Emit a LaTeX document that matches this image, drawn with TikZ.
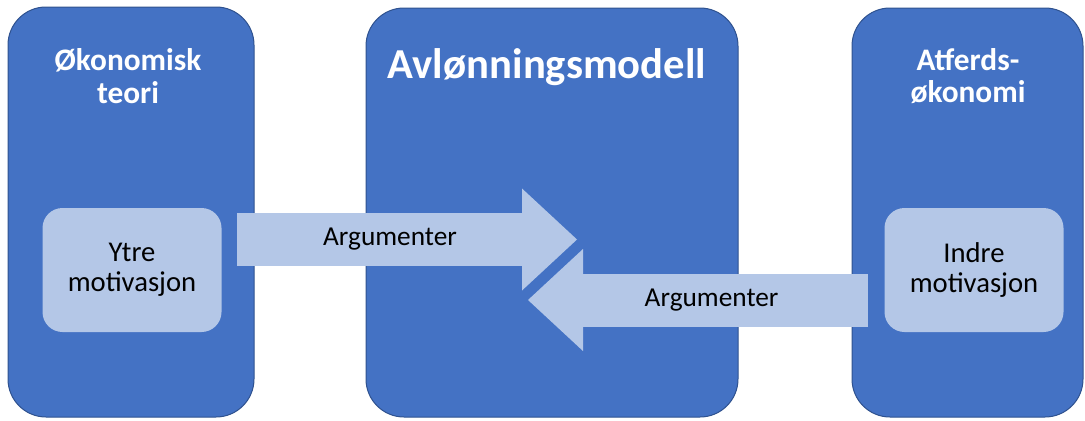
\documentclass[tikz,border=0pt]{standalone}
\usepackage{fontspec}
\setmainfont{Carlito}
\usetikzlibrary{arrows.meta, calc}
\definecolor{boxblue}{HTML}{4472C4}
\definecolor{boxline}{HTML}{2F528F}
\definecolor{lightblue}{HTML}{B4C7E7}
\newlength{\px}\setlength{\px}{0.75pt}
\begin{document}
\begin{tikzpicture}[x=\px, y=-\px,
    bigbox/.style={draw=boxline, line width=1\px, fill=boxblue, rounded corners=38\px, inner sep=0pt},
    innerbox/.style={fill=lightblue, rounded corners=20\px, minimum width=179\px, minimum height=124\px,
      align=center, font=\fontsize{21.5}{22.5}\selectfont},
    boxtitle/.style={text=white, align=center, font=\bfseries\fontsize{23.5}{24.5}\selectfont},
    argarrow/.style={draw=lightblue, line width=39.75pt,
      -{Triangle[length=41.25pt, width=76.5pt, line width=0pt]}},
    argtext/.style={text=black, font=\fontsize{20.5}{24}\selectfont}]
        \useasboundingbox (0, 0) rectangle (1085, 421);
        % big boxes
        \node[bigbox, minimum width=246\px, minimum height=410\px] (oko) at (131, 212) {};
        \node[bigbox, minimum width=372\px, minimum height=409\px] (avl) at (552, 212.5) {};
        \node[bigbox, minimum width=231\px, minimum height=409\px] (atf) at (967.5, 212.5) {};
        % titles
        \node[boxtitle] (okot) at (128, 76) {Økonomisk\\teori};
        \node[text=white, font=\bfseries\fontsize{32}{36}\selectfont] (avlt) at (547, 67) {Avlønningsmodell};
        \node[boxtitle] (atft) at (968, 76) {Atferds-\\økonomi};
        % inner boxes
        \node[innerbox] (ytre) at (132, 270) {Ytre\\motivasjon};
        \node[innerbox] (indre) at (974, 270) {Indre\\motivasjon};
        % arrows
        \coordinate (a1s) at (237, 239.5);
        \coordinate (a1e) at (577, 239.5);
        \coordinate (a2s) at (868, 300);
        \coordinate (a2e) at (528, 300);
        \draw[argarrow] (a1s) -- (a1e);
        \draw[argarrow] (a2s) -- (a2e);
        \node[argtext] (arg1) at ($(a1s)!.45!(a1e)$) {Argumenter};
        \node[argtext] (arg2) at ($(a2s)!.46!(a2e)$) {Argumenter};
      \end{tikzpicture}
\end{document}
